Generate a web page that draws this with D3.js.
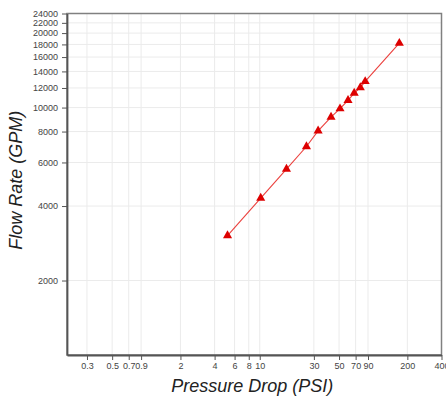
<!DOCTYPE html>
<html>
<head>
<meta charset="utf-8">
<script src="https://cdn.jsdelivr.net/npm/d3@7"></script>
<style>
  body { margin: 0; background: #fff; }
  .tick text { font-family: "Liberation Sans", Arial, sans-serif; font-size: 9px; fill: #444; }
  .grid line { stroke: #ebebeb; stroke-width: 1; }
  .axis-title { font-family: "Liberation Sans", Arial, sans-serif; font-style: italic; font-size: 18px; fill: #222; }
</style>
</head>
<body>
<script>
var width = 446,
    height = 396;

// pressure drop (PSI) vs flow rate (GPM)
var pressure = [5.2, 10.2, 17.2, 25.8, 32.7, 42.5, 51, 60, 68, 77, 85, 170];
var flow = [3040, 4310, 5640, 6960, 8050, 9150, 9900, 10700, 11450, 12050, 12750, 18200];

var xTicks = [0.3, 0.5, 0.7, 0.9, 2, 4, 6, 8, 10, 30, 50, 70, 90, 200, 400];
var yTicks = [2000, 4000, 6000, 8000, 10000, 12000, 14000, 16000, 18000, 20000, 22000, 24000];

var margin = {top: 13.5, right: 4.5, bottom: 41, left: 67};
var w = width - margin.left - margin.right,
    h = height - margin.top - margin.bottom;

var svg = d3.select("body").append("svg")
    .attr("width", width)
    .attr("height", height);

var g = svg.append("g")
    .attr("transform", "translate(" + margin.left + "," + margin.top + ")");

var x = d3.scaleLog().domain([0.2, 400]).range([0, w]);
var y = d3.scaleLog().domain([1000, 24000]).range([h, 0]);

// grid
g.append("g").attr("class", "grid")
  .selectAll("line").data(xTicks).enter().append("line")
    .attr("x1", function(d) { return x(d); })
    .attr("x2", function(d) { return x(d); })
    .attr("y1", 0).attr("y2", h);

g.append("g").attr("class", "grid")
  .selectAll("line").data(yTicks).enter().append("line")
    .attr("x1", 0).attr("x2", w)
    .attr("y1", function(d) { return y(d); })
    .attr("y2", function(d) { return y(d); });

// frame
g.append("rect")
    .attr("width", w).attr("height", h)
    .attr("fill", "none")
    .attr("stroke", "#808080")
    .attr("stroke-width", 1.5);

var xAxis = g.append("g")
    .attr("transform", "translate(0," + h + ")")
    .call(d3.axisBottom(x).tickValues(xTicks).tickFormat(d3.format("")).tickSize(5).tickSizeOuter(0).tickPadding(3));

var yAxis = g.append("g")
    .call(d3.axisLeft(y).tickValues(yTicks).tickFormat(d3.format("d")).tickSize(5).tickSizeOuter(0).tickPadding(4));

[xAxis, yAxis].forEach(function(a) {
  a.select(".domain").attr("stroke", "#555").attr("stroke-width", 1.8);
  a.selectAll(".tick line").attr("stroke", "#555");
});

// line + markers
var line = d3.line()
    .x(function(d, i) { return x(pressure[i]); })
    .y(function(d, i) { return y(flow[i]); });

g.append("path")
    .datum(flow)
    .attr("d", line)
    .attr("fill", "none")
    .attr("stroke", "#e8201c")
    .attr("stroke-opacity", 0.85)
    .attr("stroke-width", 1.1);

g.selectAll(".pt")
    .data(flow)
  .enter().append("path")
    .attr("class", "pt")
    .attr("d", d3.symbol().type(d3.symbolTriangle).size(36))
    .attr("transform", function(d, i) { return "translate(" + x(pressure[i]) + "," + y(d) + ")"; })
    .attr("fill", "#dd0000");

// titles
svg.append("text")
    .attr("class", "axis-title")
    .attr("text-anchor", "middle")
    .attr("x", margin.left + w / 2 - 2)
    .attr("y", 392)
    .text("Pressure Drop (PSI)");

svg.append("text")
    .attr("class", "axis-title")
    .attr("text-anchor", "middle")
    .attr("transform", "translate(22," + (margin.top + h / 2 - 4) + ") rotate(-90)")
    .text("Flow Rate (GPM)");
</script>
</body>
</html>
